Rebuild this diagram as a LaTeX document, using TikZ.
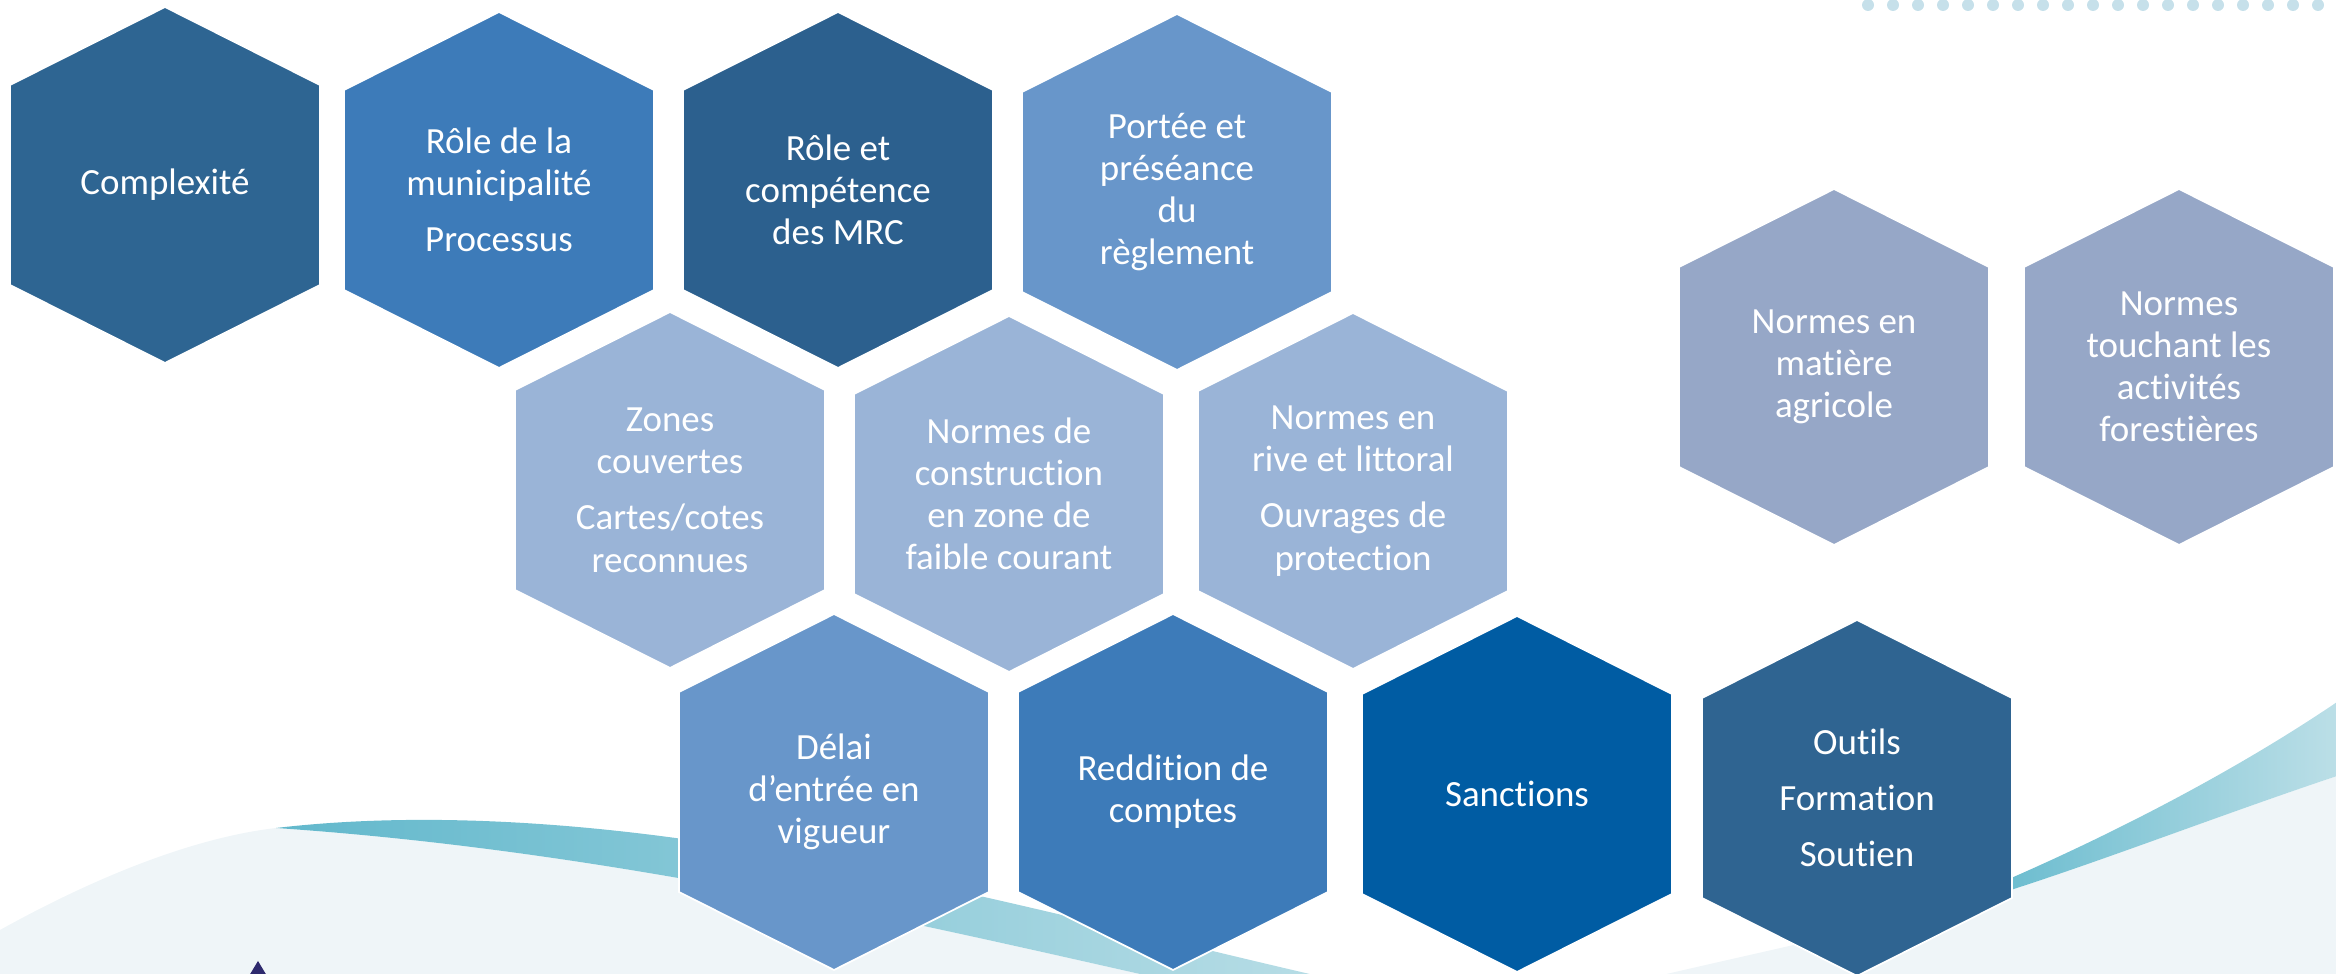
\documentclass[tikz,border=0pt]{standalone}
\usepackage{fontspec}
\setmainfont{Carlito}[Ligatures=NoCommon]

\definecolor{navyhex}{RGB}{46,101,146}
\definecolor{midhex}{RGB}{61,123,185}
\definecolor{deephex}{RGB}{44,96,142}
\definecolor{softhex}{RGB}{104,150,202}
\definecolor{palehex}{RGB}{154,180,215}
\definecolor{royalhex}{RGB}{0,92,163}
\definecolor{slatehex}{RGB}{47,100,145}
\definecolor{greyhex}{RGB}{150,167,199}
\definecolor{wavebg}{RGB}{239,245,248}
\definecolor{tealdark}{RGB}{98,184,204}
\definecolor{teallight}{RGB}{188,223,231}
\definecolor{dotblue}{RGB}{198,224,234}
\definecolor{logonavy}{RGB}{46,42,110}

\tikzset{
  hexfill/.style={fill=#1, draw=white, line width=0.5pt},
  celltext/.style={text=white, align=center, inner sep=0pt,
    font=\fontsize{10.5}{12}\selectfont},
}

% hexagon cell: name, centre, colour, text
\newcommand{\hexcell}[4]{%
  \path[hexfill=#3] (#2) ++(0,-178) -- ++(155,78) -- ++(0,200)
    -- ++(-155,78) -- ++(-155,-78) -- ++(0,-200) -- cycle;
  \node[celltext] (#1) at (#2) {#4};
}

\begin{document}
\begin{tikzpicture}[x=0.01cm, y=-0.01cm]
    \useasboundingbox (0,0) rectangle (2336,974);
    \clip (0,0) rectangle (2336,974);

    % Light ground and the two swooshes along the bottom
    \fill[wavebg] (0,990) -- (0,930) .. controls (90,880) and (190,838) .. (276,828)
        .. controls (600,850) and (900,920) .. (1140,974) -- (1150,990) -- cycle;
    \fill[wavebg] (2340,775) .. controls (2220,815) and (2100,862) .. (1995,895)
        .. controls (1850,935) and (1720,960) .. (1600,990) -- (2340,990) -- cycle;
    \shade[left color=tealdark, right color=teallight]
        (276,828) .. controls (430,810) and (620,822) .. (830,864)
        .. controls (1030,904) and (1200,950) .. (1380,990) -- (1150,990) -- (1140,974)
        .. controls (900,920) and (600,850) .. (276,828) -- cycle;
    \shade[left color=tealdark!95!white, right color=teallight]
        (1995,885) .. controls (2100,840) and (2230,775) .. (2340,700) -- (2340,775)
        .. controls (2220,815) and (2100,862) .. (1995,895) -- cycle;

    % Tip of the logo, bottom left
    \fill[logonavy] (249,976) -- (258,961) -- (267,976) -- cycle;

    % Dotted strip, top right
    \foreach \i in {0,...,18}
        \fill[dotblue] (1868+25*\i,5) circle (6);

    % First row
    \hexcell{cplx}{165,185}{navyhex}{Complexité}
    \hexcell{rolemun}{499,190}{midhex}{Rôle de la\\municipalité\\[4pt]Processus}
    \hexcell{rolemrc}{838,190}{deephex}{Rôle et\\compétence\\des MRC}
    \hexcell{portee}{1177,192}{softhex}{Portée et\\préséance\\du\\règlement}

    % Second row
    \hexcell{zones}{670,490}{palehex}{Zones\\couvertes\\[4pt]Cartes/cotes\\reconnues}
    \hexcell{normconst}{1009,494}{palehex}{Normes de\\construction\\en zone de\\faible courant}
    \hexcell{normrive}{1353,491}{palehex}{Normes en\\rive et littoral\\[4pt]Ouvrages de\\protection}

    % Third row
    \hexcell{delai}{834,792}{softhex}{Délai\\d’entrée en\\vigueur}
    \hexcell{reddition}{1173,792}{midhex}{Reddition de\\comptes}
    \hexcell{sanctions}{1517,794}{royalhex}{Sanctions}
    \hexcell{outils}{1857,798}{slatehex}{Outils\\[4pt]Formation\\[4pt]Soutien}

    % Pair on the right
    \hexcell{normagri}{1834,367}{greyhex}{Normes en\\matière\\agricole}
    \hexcell{normforet}{2179,367}{greyhex}{Normes\\touchant les\\activités\\forestières}
\end{tikzpicture}
\end{document}
